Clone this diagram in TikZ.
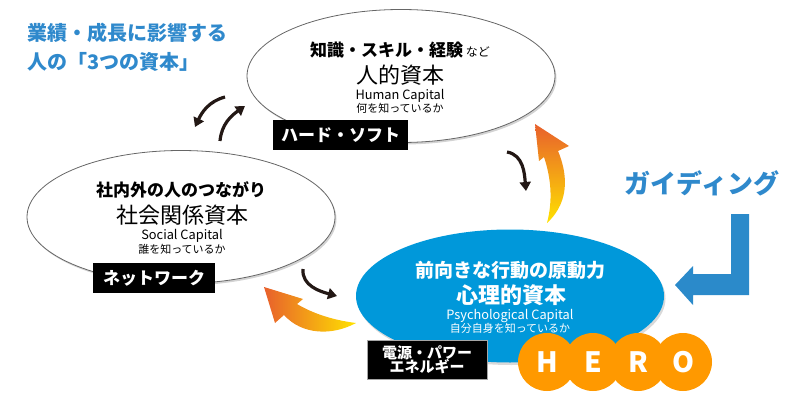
\documentclass[tikz,border=0pt]{standalone}
\usepackage{fontspec}
\setmainfont{Noto Sans CJK JP}
\usetikzlibrary{shapes.geometric,shadows,arrows.meta}
\definecolor{titleblue}{RGB}{47,137,204}
\definecolor{capblue}{RGB}{0,152,218}
\definecolor{heroorange}{RGB}{255,153,0}
\definecolor{guideblue}{RGB}{43,138,202}
\definecolor{darkarrow}{RGB}{35,24,21}
\definecolor{gradorange}{RGB}{232,96,44}
\definecolor{gradyellow}{RGB}{255,226,0}
\newcommand{\fsz}[1]{\fontsize{#1}{#1}\selectfont}
\tikzset{
  capell/.style={ellipse, minimum width=308pt, minimum height=133pt, inner sep=0pt},
  whiteell/.style={capell, draw=gray!80!black, line width=0.8pt, fill=white,
    drop shadow={shadow xshift=1.5pt, shadow yshift=-2pt, opacity=0.35}},
  blueell/.style={capell, fill=capblue,
    drop shadow={shadow xshift=1.5pt, shadow yshift=-2.5pt, opacity=0.3}},
  lblbox/.style={fill=black, text=white, font=\bfseries\fsz{17}, inner sep=0pt, minimum height=30pt},
  subtxt/.style={font=\bfseries\fsz{17}, inner sep=0pt},
  bigtxt/.style={font=\fsz{22}, inner sep=0pt},
  entxt/.style={font=\fsz{12.8}, inner sep=0pt},
  qtxt/.style={font=\fsz{11}, inner sep=0pt},
  blkarrow/.style={draw=darkarrow, line width=3.2pt, -{Triangle[length=9pt,width=11pt]}},
  herocirc/.style={circle, fill=heroorange, minimum size=58pt, inner sep=0pt,
    text=white, font=\bfseries\fsz{28}},
}
\begin{document}
\begin{tikzpicture}[x=1pt,y=-1pt]
\useasboundingbox (0,0) rectangle (805,409);

% title
\node[font=\bfseries\fsz{20}, text=titleblue, anchor=west, inner sep=0pt] (title1) at (27,33) {業績・成長に影響する};
\node[font=\bfseries\fsz{20}, text=titleblue, anchor=west, inner sep=0pt] (title2) at (27,62) {人の「3つの資本」};

% human capital
\node[whiteell] (human) at (401,76) {};
\node[subtxt] (hsub) at (400,50) {知識・スキル・経験\,{\mdseries\fsz{12}など}};
\node[bigtxt] (htitle) at (400,75) {人的資本};
\node[entxt] (hen) at (400,96) {Human Capital};
\node[qtxt] (hq) at (400,108) {何を知っているか};
\node[lblbox, minimum width=135pt] (hlbl) at (340.5,135) {ハード・ソフト};

% social capital
\node[whiteell] (social) at (181,217) {};
\node[subtxt] (ssub) at (181,190) {社内外の人のつながり};
\node[bigtxt] (stitle) at (182,215) {社会関係資本};
\node[entxt] (sen) at (182,236) {Social Capital};
\node[qtxt] (sq) at (182,249) {誰を知っているか};
\node[lblbox, minimum width=122pt] (slbl) at (154,278) {ネットワーク};

% black arrows
\coordinate (a1s) at (225,97);
\coordinate (a1e) at (195,127);
\coordinate (a2s) at (220,141);
\coordinate (a2e) at (245,106);
\coordinate (a3s) at (507,152);
\coordinate (a3e) at (526,191);
\coordinate (a4s) at (303,269);
\coordinate (a4e) at (337,296);
\draw[blkarrow] (a1s) to[out=195,in=65] (a1e);
\draw[blkarrow] (a2s) to[out=85,in=215] (a2e);
\draw[blkarrow] (a3s) to[out=-10,in=95] (a3e);
\draw[blkarrow] (a4s) to[out=-95,in=165] (a4e);

% gradient arrows
\shade[top color=gradorange, bottom color=gradyellow]
  (547,223) .. controls (572,200) and (566,170) .. (558,151)
  -- (569,146) -- (535,124) -- (539,161) -- (544,157)
  .. controls (551,178) and (553,200) .. (547,223) -- cycle;
\shade[left color=gradorange, right color=gradyellow]
  (356,323) .. controls (332,320) and (312,313) .. (297,304)
  -- (303,299) -- (264,287) -- (275,323) -- (284,315)
  .. controls (302,335) and (332,336) .. (356,323) -- cycle;

% psychological capital
\node[blueell] (psych) at (510,296) {};
\node[subtxt, text=white, font=\bfseries\fsz{19}] (psub) at (510,270) {前向きな行動の原動力};
\node[bigtxt, text=white, font=\bfseries\fsz{22}] (ptitle) at (511,295) {心理的資本};
\node[entxt, text=white] (pen) at (510,316) {Psychological Capital};
\node[qtxt, text=white] (pq) at (510,328) {自分自身を知っているか};
\node[fill=black, draw=gray!70, line width=1pt, text=white, font=\bfseries\fsz{15},
      align=center, inner sep=0pt, minimum width=120pt, minimum height=39pt] (plbl) at (427,359.5)
  {電源・パワー\\[-1pt]エネルギー};

% HERO
\node[herocirc] (h) at (547,362) {H};
\node[herocirc] (e) at (593,362) {E};
\node[herocirc] (r) at (638,362) {R};
\node[herocirc] (o) at (683,362) {O};

% guiding
\node[font=\bfseries\fsz{26}, text=titleblue, inner sep=0pt] (guide) at (702,183) {ガイディング};
\fill[guideblue] (731,214) -- (749,214) -- (749,295) -- (693,295) -- (693,305)
  -- (675,285) -- (693,266) -- (693,274) -- (731,274) -- cycle;
\end{tikzpicture}
\end{document}
